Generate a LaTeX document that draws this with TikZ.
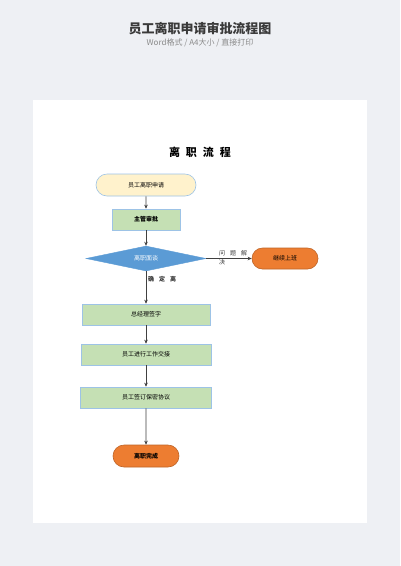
\documentclass[tikz,border=0pt]{standalone}
\usepackage{fontspec}
\setmainfont{Noto Sans CJK SC}
\usetikzlibrary{shapes.geometric,arrows.meta}
\definecolor{bgc}{HTML}{EEF0F4}
\definecolor{titc}{HTML}{3A3A3A}
\definecolor{subc}{HTML}{8A8A8A}
\definecolor{yfill}{HTML}{FFF2CC}
\definecolor{gfill}{HTML}{C5E0B4}
\definecolor{bord}{HTML}{9DC3E6}
\definecolor{dblue}{HTML}{5B9BD5}
\definecolor{org}{HTML}{ED7D31}
\definecolor{lnc}{HTML}{404040}
\tikzset{
  x=1pt,y=-1pt,
  term/.style={rounded rectangle, draw=bord, line width=0.6pt, minimum height=22pt, font=\fontsize{6}{7}\selectfont, inner sep=0pt},
  procbox/.style={rectangle, draw=bord, fill=gfill, line width=0.6pt, minimum height=21pt, font=\fontsize{6}{7}\selectfont, inner sep=0pt},
  conn/.style={draw=lnc, line width=0.7pt, -{Stealth[length=4pt,width=3.5pt]}},
  lbl/.style={font=\fontsize{6}{7}\selectfont, text=titc, inner sep=0pt}
}
\usetikzlibrary{shapes.misc}
\begin{document}
\begin{tikzpicture}
\useasboundingbox (0,0) rectangle (400,566);
\fill[bgc] (0,0) rectangle (400,566);
\node[font=\fontsize{13}{15}\selectfont\bfseries, text=titc] (title) at (200,29) {员工离职申请审批流程图};
\node[font=\fontsize{8}{10}\selectfont, text=subc] (sub) at (200,43) {Word格式 / A4大小 / 直接打印};
\fill[white] (33,100) rectangle (367,523);
\node[font=\fontsize{11}{13}\selectfont\bfseries, text=black] (head) at (200,152) {离\hspace{6pt}职\hspace{6pt}流\hspace{6pt}程};
\node[term, fill=yfill, minimum width=100pt] (start) at (146,185) {员工离职申请};
\node[procbox, minimum width=68pt, font=\fontsize{6}{7}\selectfont\bfseries] (mgr) at (146,219.5) {主管审批};
\node[diamond, fill=dblue, draw=dblue, minimum width=120pt, minimum height=25pt, aspect=4.8, inner sep=0pt, text=white, font=\fontsize{6}{7}\selectfont] (talk) at (146,258.5) {离职面谈};
\node[term, fill=org, draw=org!80!black, minimum width=66pt, minimum height=21pt] (cont) at (285,258.5) {继续上班};
\node[procbox, minimum width=128pt] (gm) at (146,314.5) {总经理签字};
\node[procbox, minimum width=130pt] (hand) at (146,354.5) {员工进行工作交接};
\node[procbox, minimum width=131pt] (nda) at (146,397.5) {员工签订保密协议};
\node[term, fill=org, draw=org!80!black, minimum width=66pt, minimum height=22pt, font=\fontsize{6}{7}\selectfont\bfseries] (done) at (146,456) {离职完成};
\draw[conn] (start) -- (mgr);
\draw[conn] (mgr) -- (talk);
\draw[conn] (talk) -- (cont);
\draw[conn] (talk) -- (gm);
\draw[conn] (gm) -- (hand);
\draw[conn] (hand) -- (nda);
\draw[conn] (nda) -- (done);
\node[lbl, anchor=west] (l1) at (219,253) {问\hspace{5pt}题\hspace{5pt}解};
\node[lbl, anchor=west] (l1b) at (219,262) {决};
\node[lbl, anchor=west, font=\fontsize{6}{7}\selectfont\bfseries] (l2) at (148,279) {确\hspace{5pt}定\hspace{5pt}离};
\end{tikzpicture}
\end{document}
